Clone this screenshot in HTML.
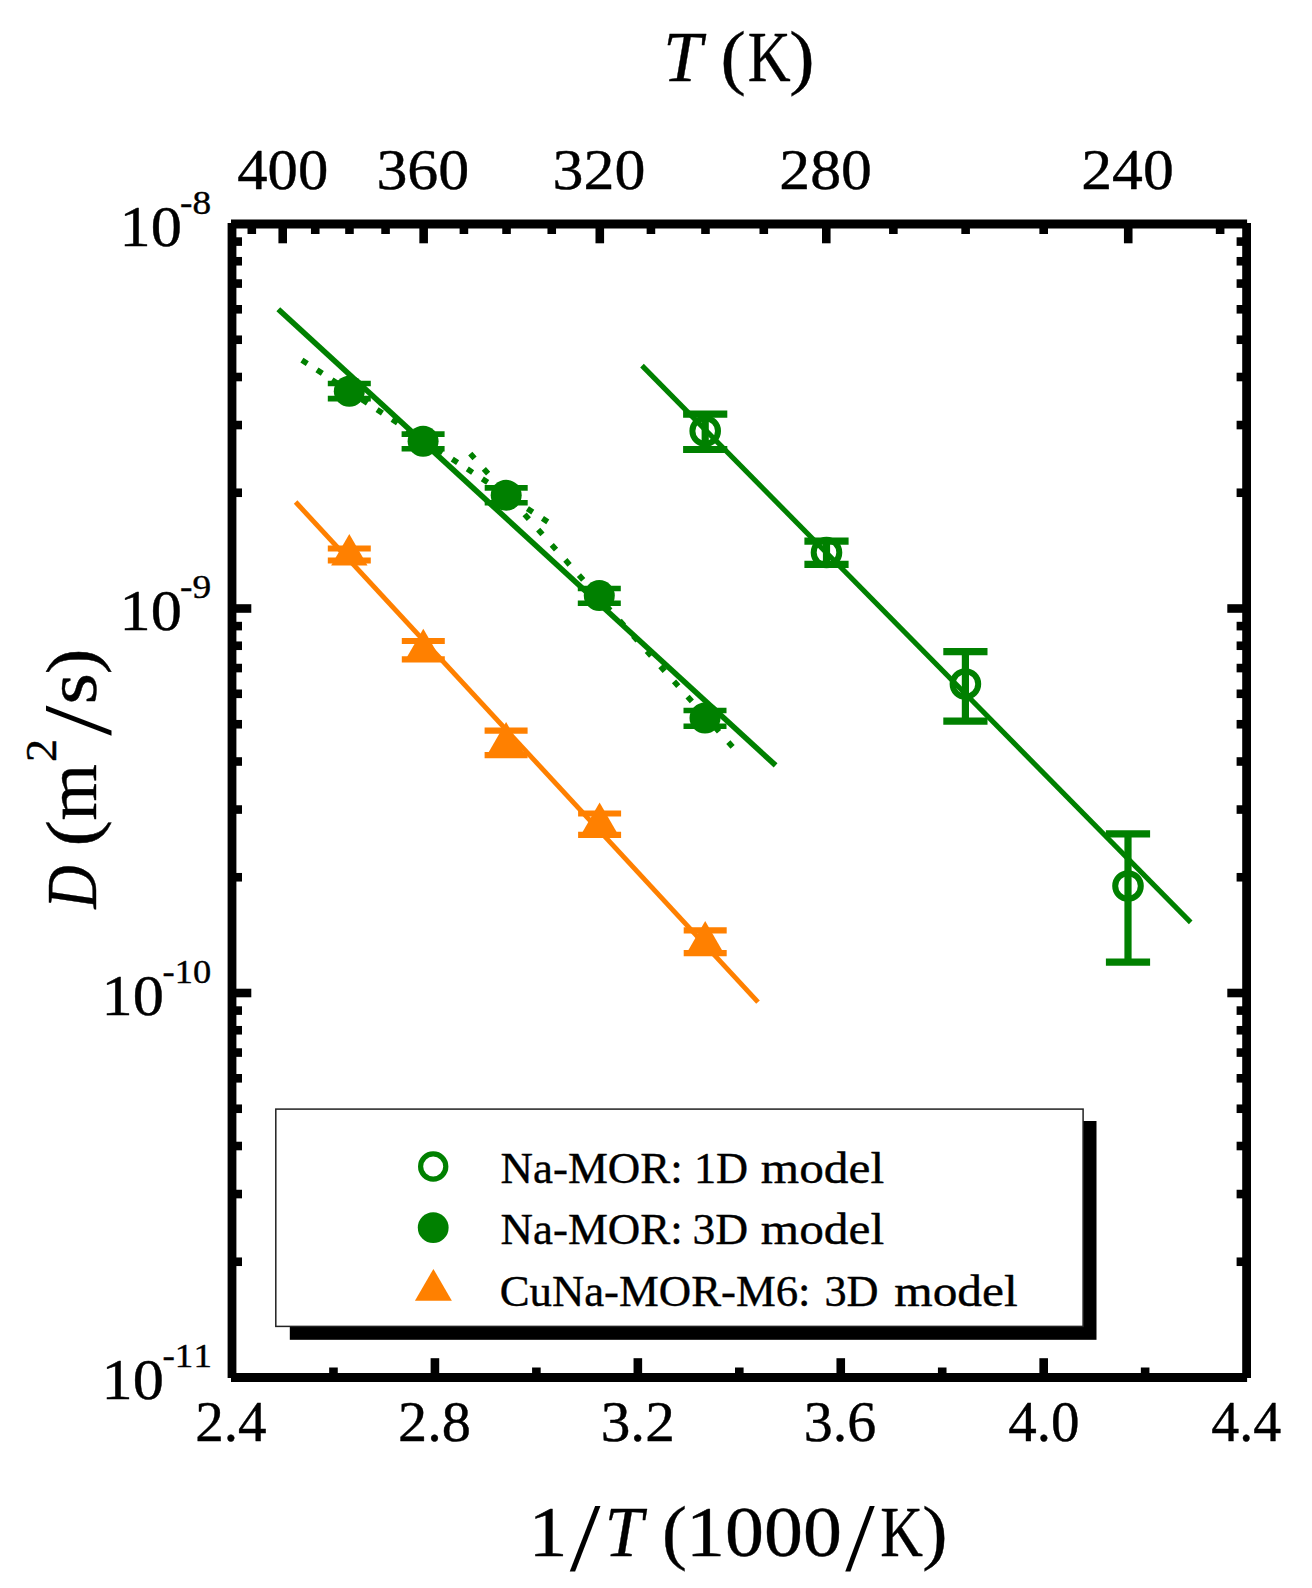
<!DOCTYPE html>
<html lang="en"><head><meta charset="utf-8"><title>Arrhenius plot</title>
<style>
html,body{margin:0;padding:0;background:#fff}
svg{display:block}
text{font-family:"Liberation Serif",serif;white-space:pre;font-kerning:none;stroke:#000;stroke-width:0.4px;stroke-linejoin:round}
</style></head><body>
<svg width="1312" height="1588" viewBox="0 0 1312 1588" role="img" aria-labelledby="ttl dsc">
<title id="ttl">Arrhenius plot of diffusion coefficient D (m2/s) versus 1/T (1000/K)</title>
<desc id="dsc">Log-scale diffusivity against inverse temperature, top axis T (K); series Na-MOR: 1D model, Na-MOR: 3D model, CuNa-MOR-M6: 3D model.</desc>
<rect width="1312" height="1588" fill="#fff"/>
<line x1="301.93" y1="360.04" x2="547.77" y2="521.96" stroke="#008000" stroke-width="5.6" stroke-dasharray="6.40 11.60"/>
<line x1="470.27" y1="453.72" x2="732.63" y2="746.98" stroke="#008000" stroke-width="5.6" stroke-dasharray="6.40 13.97"/>
<line x1="278.30" y1="309.30" x2="775.60" y2="765.40" stroke="#008000" stroke-width="5.6"/>
<line x1="642.00" y1="365.60" x2="1190.70" y2="922.40" stroke="#008000" stroke-width="5.1"/>
<line x1="295.60" y1="502.00" x2="758.00" y2="1002.20" stroke="#ff8000" stroke-width="4.9"/>
<line x1="349.30" y1="383.50" x2="349.30" y2="398.60" stroke="#008000" stroke-width="5.6"/>
<line x1="327.80" y1="383.50" x2="370.80" y2="383.50" stroke="#008000" stroke-width="5.6"/>
<line x1="327.80" y1="398.60" x2="370.80" y2="398.60" stroke="#008000" stroke-width="5.6"/>
<circle cx="349.3" cy="391.2" r="15.5" fill="#008000"/>
<line x1="423.10" y1="434.10" x2="423.10" y2="448.80" stroke="#008000" stroke-width="5.6"/>
<line x1="401.60" y1="434.10" x2="444.60" y2="434.10" stroke="#008000" stroke-width="5.6"/>
<line x1="401.60" y1="448.80" x2="444.60" y2="448.80" stroke="#008000" stroke-width="5.6"/>
<circle cx="423.1" cy="441.3" r="15.5" fill="#008000"/>
<line x1="506.20" y1="487.90" x2="506.20" y2="502.70" stroke="#008000" stroke-width="5.6"/>
<line x1="484.70" y1="487.90" x2="527.70" y2="487.90" stroke="#008000" stroke-width="5.6"/>
<line x1="484.70" y1="502.70" x2="527.70" y2="502.70" stroke="#008000" stroke-width="5.6"/>
<circle cx="506.2" cy="495.3" r="15.5" fill="#008000"/>
<line x1="599.30" y1="588.50" x2="599.30" y2="603.20" stroke="#008000" stroke-width="5.6"/>
<line x1="577.80" y1="588.50" x2="620.80" y2="588.50" stroke="#008000" stroke-width="5.6"/>
<line x1="577.80" y1="603.20" x2="620.80" y2="603.20" stroke="#008000" stroke-width="5.6"/>
<circle cx="599.3" cy="595.6" r="15.5" fill="#008000"/>
<line x1="705.00" y1="710.50" x2="705.00" y2="726.30" stroke="#008000" stroke-width="5.6"/>
<line x1="683.50" y1="710.50" x2="726.50" y2="710.50" stroke="#008000" stroke-width="5.6"/>
<line x1="683.50" y1="726.30" x2="726.50" y2="726.30" stroke="#008000" stroke-width="5.6"/>
<circle cx="705.0" cy="718.0" r="15.5" fill="#008000"/>
<line x1="705.20" y1="414.10" x2="705.20" y2="449.50" stroke="#008000" stroke-width="7.2"/>
<line x1="683.10" y1="414.10" x2="727.30" y2="414.10" stroke="#008000" stroke-width="7.2"/>
<line x1="683.10" y1="449.50" x2="727.30" y2="449.50" stroke="#008000" stroke-width="7.2"/>
<circle cx="705.2" cy="431.0" r="12.8" fill="none" stroke="#008000" stroke-width="6"/>
<line x1="826.50" y1="541.20" x2="826.50" y2="564.40" stroke="#008000" stroke-width="7.2"/>
<line x1="804.40" y1="541.20" x2="848.60" y2="541.20" stroke="#008000" stroke-width="7.2"/>
<line x1="804.40" y1="564.40" x2="848.60" y2="564.40" stroke="#008000" stroke-width="7.2"/>
<circle cx="826.5" cy="552.5" r="12.8" fill="none" stroke="#008000" stroke-width="6"/>
<line x1="965.40" y1="651.70" x2="965.40" y2="721.20" stroke="#008000" stroke-width="7.2"/>
<line x1="943.30" y1="651.70" x2="987.50" y2="651.70" stroke="#008000" stroke-width="7.2"/>
<line x1="943.30" y1="721.20" x2="987.50" y2="721.20" stroke="#008000" stroke-width="7.2"/>
<circle cx="965.4" cy="684.0" r="12.8" fill="none" stroke="#008000" stroke-width="6"/>
<line x1="1128.00" y1="833.90" x2="1128.00" y2="962.20" stroke="#008000" stroke-width="7.2"/>
<line x1="1105.90" y1="833.90" x2="1150.10" y2="833.90" stroke="#008000" stroke-width="7.2"/>
<line x1="1105.90" y1="962.20" x2="1150.10" y2="962.20" stroke="#008000" stroke-width="7.2"/>
<circle cx="1128.0" cy="886.0" r="12.8" fill="none" stroke="#008000" stroke-width="6"/>
<line x1="349.30" y1="548.50" x2="349.30" y2="560.50" stroke="#ff8000" stroke-width="6.2"/>
<line x1="327.80" y1="548.50" x2="370.80" y2="548.50" stroke="#ff8000" stroke-width="6.2"/>
<line x1="327.80" y1="560.50" x2="370.80" y2="560.50" stroke="#ff8000" stroke-width="6.2"/>
<polygon points="349.30,533.88 331.10,565.41 367.50,565.41" fill="#ff8000"/>
<line x1="423.30" y1="641.00" x2="423.30" y2="659.30" stroke="#ff8000" stroke-width="6.2"/>
<line x1="401.80" y1="641.00" x2="444.80" y2="641.00" stroke="#ff8000" stroke-width="6.2"/>
<line x1="401.80" y1="659.30" x2="444.80" y2="659.30" stroke="#ff8000" stroke-width="6.2"/>
<polygon points="423.30,628.78 405.10,660.31 441.50,660.31" fill="#ff8000"/>
<line x1="506.10" y1="730.70" x2="506.10" y2="755.20" stroke="#ff8000" stroke-width="6.2"/>
<line x1="484.60" y1="730.70" x2="527.60" y2="730.70" stroke="#ff8000" stroke-width="6.2"/>
<line x1="484.60" y1="755.20" x2="527.60" y2="755.20" stroke="#ff8000" stroke-width="6.2"/>
<polygon points="506.10,721.98 487.90,753.51 524.30,753.51" fill="#ff8000"/>
<line x1="599.60" y1="813.50" x2="599.60" y2="834.90" stroke="#ff8000" stroke-width="6.2"/>
<line x1="578.10" y1="813.50" x2="621.10" y2="813.50" stroke="#ff8000" stroke-width="6.2"/>
<line x1="578.10" y1="834.90" x2="621.10" y2="834.90" stroke="#ff8000" stroke-width="6.2"/>
<polygon points="599.60,802.58 581.40,834.11 617.80,834.11" fill="#ff8000"/>
<line x1="705.20" y1="930.40" x2="705.20" y2="953.20" stroke="#ff8000" stroke-width="6.2"/>
<line x1="683.70" y1="930.40" x2="726.70" y2="930.40" stroke="#ff8000" stroke-width="6.2"/>
<line x1="683.70" y1="953.20" x2="726.70" y2="953.20" stroke="#ff8000" stroke-width="6.2"/>
<polygon points="705.20,920.88 687.00,952.41 723.40,952.41" fill="#ff8000"/>
<line x1="232.00" y1="223.00" x2="232.00" y2="1378.00" stroke="#000" stroke-width="8.8"/>
<line x1="1246.60" y1="223.00" x2="1246.60" y2="1378.00" stroke="#000" stroke-width="8.8"/>
<line x1="231.00" y1="224.00" x2="1247.10" y2="224.00" stroke="#000" stroke-width="8.8"/>
<line x1="231.00" y1="1377.50" x2="1247.10" y2="1377.50" stroke="#000" stroke-width="8.8"/>
<line x1="1220.13" y1="224.00" x2="1220.13" y2="234.00" stroke="#000" stroke-width="8.6"/>
<line x1="1128.23" y1="224.00" x2="1128.23" y2="243.30" stroke="#000" stroke-width="8.6"/>
<line x1="1043.68" y1="224.00" x2="1043.68" y2="234.00" stroke="#000" stroke-width="8.6"/>
<line x1="965.63" y1="224.00" x2="965.63" y2="234.00" stroke="#000" stroke-width="8.6"/>
<line x1="893.37" y1="224.00" x2="893.37" y2="234.00" stroke="#000" stroke-width="8.6"/>
<line x1="826.27" y1="224.00" x2="826.27" y2="243.30" stroke="#000" stroke-width="8.6"/>
<line x1="763.79" y1="224.00" x2="763.79" y2="234.00" stroke="#000" stroke-width="8.6"/>
<line x1="705.48" y1="224.00" x2="705.48" y2="234.00" stroke="#000" stroke-width="8.6"/>
<line x1="650.93" y1="224.00" x2="650.93" y2="234.00" stroke="#000" stroke-width="8.6"/>
<line x1="599.79" y1="224.00" x2="599.79" y2="243.30" stroke="#000" stroke-width="8.6"/>
<line x1="551.75" y1="224.00" x2="551.75" y2="234.00" stroke="#000" stroke-width="8.6"/>
<line x1="506.54" y1="224.00" x2="506.54" y2="234.00" stroke="#000" stroke-width="8.6"/>
<line x1="463.91" y1="224.00" x2="463.91" y2="234.00" stroke="#000" stroke-width="8.6"/>
<line x1="423.65" y1="224.00" x2="423.65" y2="243.30" stroke="#000" stroke-width="8.6"/>
<line x1="385.56" y1="224.00" x2="385.56" y2="234.00" stroke="#000" stroke-width="8.6"/>
<line x1="349.48" y1="224.00" x2="349.48" y2="234.00" stroke="#000" stroke-width="8.6"/>
<line x1="315.25" y1="224.00" x2="315.25" y2="234.00" stroke="#000" stroke-width="8.6"/>
<line x1="282.73" y1="224.00" x2="282.73" y2="243.30" stroke="#000" stroke-width="8.6"/>
<line x1="251.80" y1="224.00" x2="251.80" y2="234.00" stroke="#000" stroke-width="8.6"/>
<line x1="333.46" y1="1377.50" x2="333.46" y2="1367.50" stroke="#000" stroke-width="8.6"/>
<line x1="434.92" y1="1377.50" x2="434.92" y2="1358.20" stroke="#000" stroke-width="8.6"/>
<line x1="536.38" y1="1377.50" x2="536.38" y2="1367.50" stroke="#000" stroke-width="8.6"/>
<line x1="637.84" y1="1377.50" x2="637.84" y2="1358.20" stroke="#000" stroke-width="8.6"/>
<line x1="739.30" y1="1377.50" x2="739.30" y2="1367.50" stroke="#000" stroke-width="8.6"/>
<line x1="840.76" y1="1377.50" x2="840.76" y2="1358.20" stroke="#000" stroke-width="8.6"/>
<line x1="942.22" y1="1377.50" x2="942.22" y2="1367.50" stroke="#000" stroke-width="8.6"/>
<line x1="1043.68" y1="1377.50" x2="1043.68" y2="1358.20" stroke="#000" stroke-width="8.6"/>
<line x1="1145.14" y1="1377.50" x2="1145.14" y2="1367.50" stroke="#000" stroke-width="8.6"/>
<line x1="232.00" y1="608.50" x2="251.30" y2="608.50" stroke="#000" stroke-width="8.6"/>
<line x1="1246.60" y1="608.50" x2="1227.30" y2="608.50" stroke="#000" stroke-width="8.6"/>
<line x1="232.00" y1="492.75" x2="242.00" y2="492.75" stroke="#000" stroke-width="8.6"/>
<line x1="1246.60" y1="492.75" x2="1236.60" y2="492.75" stroke="#000" stroke-width="8.6"/>
<line x1="232.00" y1="425.05" x2="242.00" y2="425.05" stroke="#000" stroke-width="8.6"/>
<line x1="1246.60" y1="425.05" x2="1236.60" y2="425.05" stroke="#000" stroke-width="8.6"/>
<line x1="232.00" y1="377.01" x2="242.00" y2="377.01" stroke="#000" stroke-width="8.6"/>
<line x1="1246.60" y1="377.01" x2="1236.60" y2="377.01" stroke="#000" stroke-width="8.6"/>
<line x1="232.00" y1="339.75" x2="242.00" y2="339.75" stroke="#000" stroke-width="8.6"/>
<line x1="1246.60" y1="339.75" x2="1236.60" y2="339.75" stroke="#000" stroke-width="8.6"/>
<line x1="232.00" y1="309.30" x2="242.00" y2="309.30" stroke="#000" stroke-width="8.6"/>
<line x1="1246.60" y1="309.30" x2="1236.60" y2="309.30" stroke="#000" stroke-width="8.6"/>
<line x1="232.00" y1="283.56" x2="242.00" y2="283.56" stroke="#000" stroke-width="8.6"/>
<line x1="1246.60" y1="283.56" x2="1236.60" y2="283.56" stroke="#000" stroke-width="8.6"/>
<line x1="232.00" y1="261.26" x2="242.00" y2="261.26" stroke="#000" stroke-width="8.6"/>
<line x1="1246.60" y1="261.26" x2="1236.60" y2="261.26" stroke="#000" stroke-width="8.6"/>
<line x1="232.00" y1="241.59" x2="242.00" y2="241.59" stroke="#000" stroke-width="8.6"/>
<line x1="1246.60" y1="241.59" x2="1236.60" y2="241.59" stroke="#000" stroke-width="8.6"/>
<line x1="232.00" y1="993.00" x2="251.30" y2="993.00" stroke="#000" stroke-width="8.6"/>
<line x1="1246.60" y1="993.00" x2="1227.30" y2="993.00" stroke="#000" stroke-width="8.6"/>
<line x1="232.00" y1="877.25" x2="242.00" y2="877.25" stroke="#000" stroke-width="8.6"/>
<line x1="1246.60" y1="877.25" x2="1236.60" y2="877.25" stroke="#000" stroke-width="8.6"/>
<line x1="232.00" y1="809.55" x2="242.00" y2="809.55" stroke="#000" stroke-width="8.6"/>
<line x1="1246.60" y1="809.55" x2="1236.60" y2="809.55" stroke="#000" stroke-width="8.6"/>
<line x1="232.00" y1="761.51" x2="242.00" y2="761.51" stroke="#000" stroke-width="8.6"/>
<line x1="1246.60" y1="761.51" x2="1236.60" y2="761.51" stroke="#000" stroke-width="8.6"/>
<line x1="232.00" y1="724.25" x2="242.00" y2="724.25" stroke="#000" stroke-width="8.6"/>
<line x1="1246.60" y1="724.25" x2="1236.60" y2="724.25" stroke="#000" stroke-width="8.6"/>
<line x1="232.00" y1="693.80" x2="242.00" y2="693.80" stroke="#000" stroke-width="8.6"/>
<line x1="1246.60" y1="693.80" x2="1236.60" y2="693.80" stroke="#000" stroke-width="8.6"/>
<line x1="232.00" y1="668.06" x2="242.00" y2="668.06" stroke="#000" stroke-width="8.6"/>
<line x1="1246.60" y1="668.06" x2="1236.60" y2="668.06" stroke="#000" stroke-width="8.6"/>
<line x1="232.00" y1="645.76" x2="242.00" y2="645.76" stroke="#000" stroke-width="8.6"/>
<line x1="1246.60" y1="645.76" x2="1236.60" y2="645.76" stroke="#000" stroke-width="8.6"/>
<line x1="232.00" y1="626.09" x2="242.00" y2="626.09" stroke="#000" stroke-width="8.6"/>
<line x1="1246.60" y1="626.09" x2="1236.60" y2="626.09" stroke="#000" stroke-width="8.6"/>
<line x1="232.00" y1="1261.75" x2="242.00" y2="1261.75" stroke="#000" stroke-width="8.6"/>
<line x1="1246.60" y1="1261.75" x2="1236.60" y2="1261.75" stroke="#000" stroke-width="8.6"/>
<line x1="232.00" y1="1194.05" x2="242.00" y2="1194.05" stroke="#000" stroke-width="8.6"/>
<line x1="1246.60" y1="1194.05" x2="1236.60" y2="1194.05" stroke="#000" stroke-width="8.6"/>
<line x1="232.00" y1="1146.01" x2="242.00" y2="1146.01" stroke="#000" stroke-width="8.6"/>
<line x1="1246.60" y1="1146.01" x2="1236.60" y2="1146.01" stroke="#000" stroke-width="8.6"/>
<line x1="232.00" y1="1108.75" x2="242.00" y2="1108.75" stroke="#000" stroke-width="8.6"/>
<line x1="1246.60" y1="1108.75" x2="1236.60" y2="1108.75" stroke="#000" stroke-width="8.6"/>
<line x1="232.00" y1="1078.30" x2="242.00" y2="1078.30" stroke="#000" stroke-width="8.6"/>
<line x1="1246.60" y1="1078.30" x2="1236.60" y2="1078.30" stroke="#000" stroke-width="8.6"/>
<line x1="232.00" y1="1052.56" x2="242.00" y2="1052.56" stroke="#000" stroke-width="8.6"/>
<line x1="1246.60" y1="1052.56" x2="1236.60" y2="1052.56" stroke="#000" stroke-width="8.6"/>
<line x1="232.00" y1="1030.26" x2="242.00" y2="1030.26" stroke="#000" stroke-width="8.6"/>
<line x1="1246.60" y1="1030.26" x2="1236.60" y2="1030.26" stroke="#000" stroke-width="8.6"/>
<line x1="232.00" y1="1010.59" x2="242.00" y2="1010.59" stroke="#000" stroke-width="8.6"/>
<line x1="1246.60" y1="1010.59" x2="1236.60" y2="1010.59" stroke="#000" stroke-width="8.6"/>
<text transform="translate(237.30,189.30) scale(1.0833,1)" font-size="56" fill="#000">400</text>
<text transform="translate(376.44,189.30) scale(1.1050,1)" font-size="56" fill="#000">360</text>
<text transform="translate(552.58,189.30) scale(1.1050,1)" font-size="56" fill="#000">320</text>
<text transform="translate(779.30,189.30) scale(1.1019,1)" font-size="56" fill="#000">280</text>
<text transform="translate(1081.27,189.30) scale(1.1019,1)" font-size="56" fill="#000">240</text>
<text transform="translate(195.19,1440.60) scale(1.0200,1)" font-size="56" fill="#000">2.4</text>
<text transform="translate(398.06,1440.60) scale(1.0397,1)" font-size="56" fill="#000">2.8</text>
<text transform="translate(600.70,1440.60) scale(1.0587,1)" font-size="56" fill="#000">3.2</text>
<text transform="translate(803.68,1440.60) scale(1.0358,1)" font-size="56" fill="#000">3.6</text>
<text transform="translate(1008.27,1440.60) scale(1.0184,1)" font-size="56" fill="#000">4.0</text>
<text transform="translate(1211.21,1440.60) scale(0.9995,1)" font-size="56" fill="#000">4.4</text>
<text><tspan x="119.62" y="245.70" font-size="56" textLength="62.36" lengthAdjust="spacingAndGlyphs">10</tspan><tspan x="180.12" y="213.70" font-size="34" textLength="31.00" lengthAdjust="spacingAndGlyphs">-8</tspan></text>
<text><tspan x="119.62" y="630.20" font-size="56" textLength="62.36" lengthAdjust="spacingAndGlyphs">10</tspan><tspan x="180.11" y="598.20" font-size="34" textLength="31.12" lengthAdjust="spacingAndGlyphs">-9</tspan></text>
<text><tspan x="101.62" y="1014.70" font-size="56" textLength="62.36" lengthAdjust="spacingAndGlyphs">10</tspan><tspan x="162.55" y="982.70" font-size="34" textLength="48.54" lengthAdjust="spacingAndGlyphs">-10</tspan></text>
<text><tspan x="101.62" y="1399.20" font-size="56" textLength="62.36" lengthAdjust="spacingAndGlyphs">10</tspan><tspan x="162.52" y="1367.20" font-size="34" textLength="49.40" lengthAdjust="spacingAndGlyphs">-11</tspan></text>
<text><tspan x="663.33" y="80.90" font-size="72.5" textLength="38.84" lengthAdjust="spacingAndGlyphs" font-style="italic">T</tspan> <tspan x="720.46" y="80.90" font-size="72.5" textLength="25.28" lengthAdjust="spacingAndGlyphs">(</tspan><tspan x="747.69" y="80.90" font-size="72.5" textLength="42.92" lengthAdjust="spacingAndGlyphs">K</tspan><tspan x="789.35" y="80.90" font-size="72.5" textLength="25.28" lengthAdjust="spacingAndGlyphs">)</tspan></text>
<text><tspan x="528.63" y="1555.90" font-size="72.5" textLength="39.06" lengthAdjust="spacingAndGlyphs">1</tspan><tspan x="569.80" y="1569.50" font-size="97.6" textLength="30.70" lengthAdjust="spacingAndGlyphs" stroke-width="0">/</tspan><tspan x="604.80" y="1555.90" font-size="72.5" textLength="38.24" lengthAdjust="spacingAndGlyphs" font-style="italic">T</tspan> <tspan x="662.11" y="1555.90" font-size="72.5" textLength="24.89" lengthAdjust="spacingAndGlyphs">(</tspan><tspan x="686.05" y="1555.90" font-size="72.5" textLength="155.81" lengthAdjust="spacingAndGlyphs">1000</tspan><tspan x="845.30" y="1569.50" font-size="97.6" textLength="29.50" lengthAdjust="spacingAndGlyphs" stroke-width="0">/</tspan><tspan x="880.20" y="1555.90" font-size="72.5" textLength="42.71" lengthAdjust="spacingAndGlyphs">K</tspan><tspan x="922.15" y="1555.90" font-size="72.5" textLength="25.28" lengthAdjust="spacingAndGlyphs">)</tspan></text>
<text transform="translate(96.00,0) rotate(-90)"><tspan x="-908.83" y="0.00" font-size="72.5" textLength="43.33" lengthAdjust="spacingAndGlyphs" font-style="italic">D</tspan> <tspan x="-846.59" y="0.00" font-size="72.5" textLength="26.45" lengthAdjust="spacingAndGlyphs">(</tspan><tspan x="-820.62" y="0.00" font-size="72.5" textLength="56.46" lengthAdjust="spacingAndGlyphs">m</tspan><tspan x="-761.93" y="-40.10" font-size="44" textLength="23.07" lengthAdjust="spacingAndGlyphs">2</tspan><tspan x="-735.70" y="14.00" font-size="96.5" textLength="30.20" lengthAdjust="spacingAndGlyphs" stroke-width="0">/</tspan><tspan x="-704.61" y="0.00" font-size="72.5" textLength="31.43" lengthAdjust="spacingAndGlyphs">s</tspan><tspan x="-674.38" y="0.00" font-size="72.5" textLength="25.67" lengthAdjust="spacingAndGlyphs">)</tspan></text>
<rect x="289.8" y="1121.0" width="806.7" height="218.8" fill="#000"/>
<rect x="275.8" y="1109.1" width="807.3" height="217.3" fill="#fff" stroke="#222" stroke-width="1.5"/>
<circle cx="433.2" cy="1166.5" r="12.6" fill="none" stroke="#008000" stroke-width="5.2"/>
<circle cx="433.2" cy="1227.7" r="15.4" fill="#008000"/>
<polygon points="433.40,1268.90 414.95,1300.85 451.85,1300.85" fill="#ff8000"/>
<text><tspan x="500.61" y="1182.70" font-size="45" textLength="182.13" lengthAdjust="spacingAndGlyphs">Na-MOR:</tspan> <tspan x="693.90" y="1182.70" font-size="45" textLength="54.17" lengthAdjust="spacingAndGlyphs">1D</tspan> <tspan x="760.86" y="1182.70" font-size="45" textLength="123.22" lengthAdjust="spacingAndGlyphs">model</tspan></text>
<text><tspan x="500.61" y="1243.80" font-size="45" textLength="182.13" lengthAdjust="spacingAndGlyphs">Na-MOR:</tspan> <tspan x="692.52" y="1243.80" font-size="45" textLength="55.60" lengthAdjust="spacingAndGlyphs">3D</tspan> <tspan x="760.86" y="1243.80" font-size="45" textLength="123.22" lengthAdjust="spacingAndGlyphs">model</tspan></text>
<text><tspan x="499.66" y="1305.50" font-size="45" textLength="310.86" lengthAdjust="spacingAndGlyphs">CuNa-MOR-M6:</tspan> <tspan x="824.48" y="1305.50" font-size="45" textLength="54.09" lengthAdjust="spacingAndGlyphs">3D</tspan> <tspan x="894.26" y="1305.50" font-size="45" textLength="123.43" lengthAdjust="spacingAndGlyphs">model</tspan></text>
</svg>
</body></html>
